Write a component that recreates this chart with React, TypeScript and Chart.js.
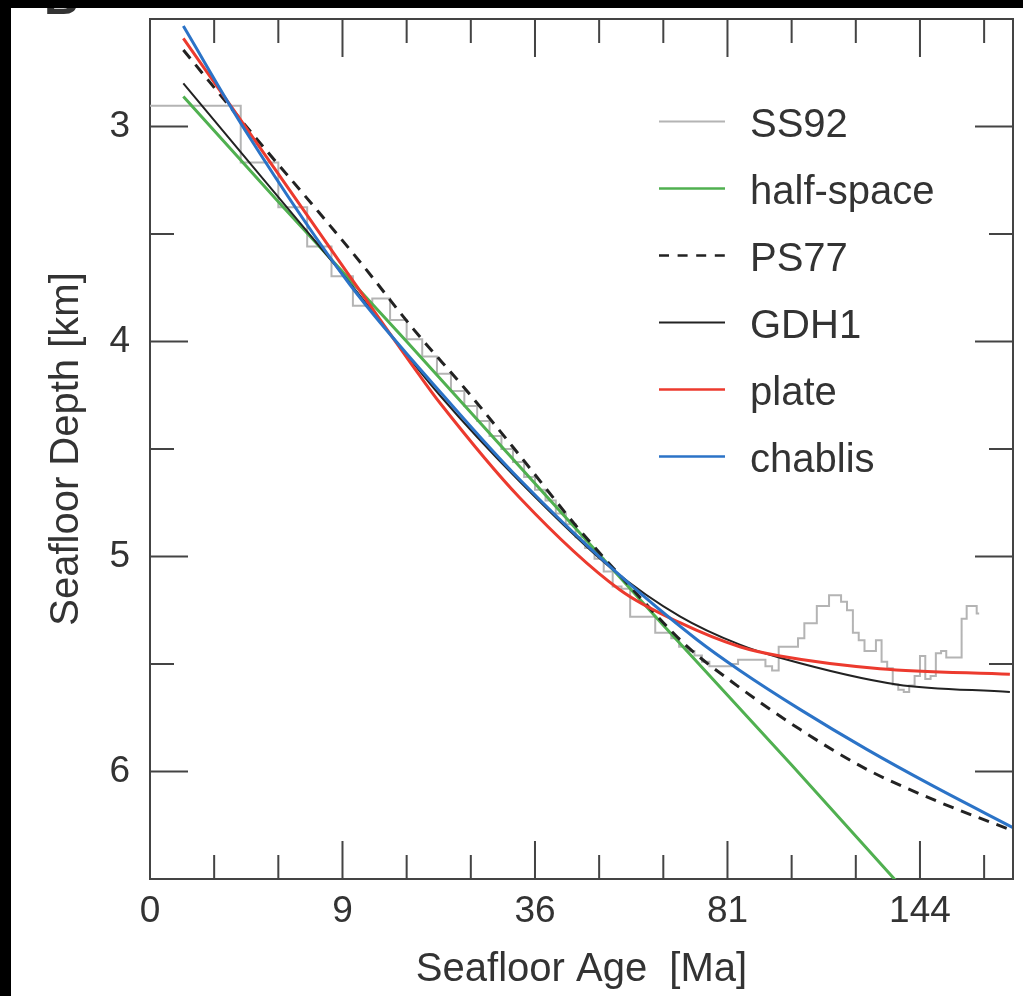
import React, { useEffect, useRef } from "react";
import { Chart, registerables } from "chart.js";

Chart.register(...registerables);

const FONT = "'Liberation Sans', Arial, Helvetica, sans-serif";
const TEXT = "#333333";
const AXIS = "#444444";

// Axis is linear in sqrt(age); labels show the age in Ma
const xTickAges = [0, 9, 36, 81, 144];
const xMinorTickAges = [1, 4, 16, 25, 49, 64, 100, 121, 169];
const yTickDepths = [3, 4, 5, 6];
const yMinorTickDepths = [3.5, 4.5, 5.5];
const xMaxAge = 180.9;

const xTitle = "Seafloor Age  [Ma]";
const yTitle = "Seafloor Depth [km]";

// SS92 binned depths (2 Ma bins; value at bin start, last point closes the final bin)
const ss92Age = [
  0, 2, 4, 6, 8, 10, 12, 14, 16, 18, 20, 22, 24, 26, 28, 30, 32, 34, 36, 38,
  40, 42, 44, 46, 48, 50, 52, 54, 56, 58, 60, 62, 64, 66, 68, 70, 72, 74, 76, 78,
  80, 82, 84, 86, 88, 90, 92, 94, 96, 98, 100, 102, 104, 106, 108, 110, 112, 114, 116, 118,
  120, 122, 124, 126, 128, 130, 132, 134, 136, 138, 140, 142, 144, 146, 148, 150, 152, 154, 156, 158,
  160, 162, 164, 166, 167,
];
const ss92Depth = [
  2.904, 3.168, 3.376, 3.558, 3.697, 3.834, 3.8, 3.9, 3.99, 4.07, 4.15, 4.23, 4.3, 4.37, 4.44, 4.5, 4.56, 4.63, 4.69, 4.74,
  4.8, 4.85, 4.91, 4.96, 5.01, 5.07, 5.14, 5.15, 5.28, 5.28, 5.28, 5.355, 5.355, 5.38, 5.42, 5.44, 5.46, 5.49, 5.51, 5.51,
  5.51, 5.5, 5.48, 5.48, 5.48, 5.48, 5.51, 5.53, 5.42, 5.42, 5.42, 5.38, 5.31, 5.31, 5.23, 5.23, 5.18, 5.18, 5.21, 5.25,
  5.355, 5.39, 5.44, 5.44, 5.39, 5.49, 5.52, 5.595, 5.62, 5.63, 5.6, 5.556, 5.463, 5.57, 5.556, 5.45, 5.44, 5.47, 5.47, 5.47,
  5.29, 5.23, 5.23, 5.265, 5.265,
];

const halfSpaceAge = [0.27, 4, 16, 36, 64, 100, 136];
const halfSpaceDepth = [2.86, 3.35, 4.0, 4.66, 5.32, 5.97, 6.52];

const ps77Age = [0.27, 2.6, 6.5, 10.9, 16.8, 24.4, 33.2, 44.2, 56, 70, 82.5, 102.6, 124.8, 148.9, 180.9];
const ps77Depth = [2.644, 3.04, 3.37, 3.64, 3.94, 4.23, 4.53, 4.86, 5.14, 5.417, 5.586, 5.804, 5.99, 6.13, 6.276];

const gdh1Age = [0.27, 2.6, 9.7, 20.4, 33.2, 52, 68.2, 84.5, 96.4, 135.4, 179.6];
const gdh1Depth = [2.799, 3.19, 3.728, 4.25, 4.651, 5.06, 5.278, 5.41, 5.471, 5.595, 5.63];

const plateAge = [0.27, 1.97, 9.7, 17.7, 20.4, 33.2, 53.6, 68.2, 84.5, 96.4, 129.4, 179.6];
const plateDepth = [2.59, 2.966, 3.697, 4.16, 4.285, 4.727, 5.155, 5.308, 5.42, 5.463, 5.522, 5.548];

const chablisAge = [0.27, 2.19, 9.7, 22.3, 33.2, 52.1, 72.6, 84.5, 102.6, 124.8, 148.9, 180.9];
const chablisDepth = [2.533, 3.016, 3.735, 4.302, 4.642, 5.06, 5.386, 5.53, 5.711, 5.897, 6.067, 6.261];

const toPoints = (ages: number[], depths: number[]) =>
  ages.map((a, i) => ({ x: Math.sqrt(a), y: depths[i] }));

const frameTicksPlugin = {
  id: "frameTicks",
  afterDatasetsDraw(chart: any) {
    const { ctx, chartArea: a, scales } = chart;
    const xs = scales.x;
    const ys = scales.y;
    ctx.save();
    ctx.strokeStyle = AXIS;
    ctx.lineWidth = 2;
    ctx.setLineDash([]);
    ctx.beginPath();
    ctx.moveTo(a.left, a.top);
    ctx.lineTo(a.right, a.top);
    ctx.lineTo(a.right, a.bottom);
    ctx.stroke();
    const major = 38;
    const minor = 24;
    const xTicks = [
      ...xTickAges.filter((v) => v > 0).map((v) => [v, major]),
      ...xMinorTickAges.map((v) => [v, minor]),
    ];
    xTicks.forEach(([age, len]) => {
      const px = xs.getPixelForValue(Math.sqrt(age));
      if (px <= a.left + 1 || px >= a.right - 1) return;
      ctx.beginPath();
      ctx.moveTo(px, a.bottom);
      ctx.lineTo(px, a.bottom - len);
      ctx.moveTo(px, a.top);
      ctx.lineTo(px, a.top + len);
      ctx.stroke();
    });
    const yTicks = [
      ...yTickDepths.map((v) => [v, major]),
      ...yMinorTickDepths.map((v) => [v, minor]),
    ];
    yTicks.forEach(([d, len]) => {
      const py = ys.getPixelForValue(d);
      ctx.beginPath();
      ctx.moveTo(a.left, py);
      ctx.lineTo(a.left + len, py);
      ctx.moveTo(a.right, py);
      ctx.lineTo(a.right - len, py);
      ctx.stroke();
    });
    ctx.restore();
  },
};

const legendPlugin = {
  id: "insideLegend",
  afterDatasetsDraw(chart: any) {
    const { ctx } = chart;
    const x0 = 659;
    const x1 = 725;
    const tx = 750;
    const y0 = 121.5;
    const dy = 67;
    ctx.save();
    chart.data.datasets.forEach((ds: any, i: number) => {
      const y = y0 + dy * i;
      ctx.strokeStyle = ds.borderColor;
      ctx.lineWidth = Math.min(ds.borderWidth, 2.5);
      ctx.setLineDash(ds.borderDash ? [10, 8.6] : []);
      ctx.beginPath();
      ctx.moveTo(x0, y);
      ctx.lineTo(x1, y);
      ctx.stroke();
      ctx.setLineDash([]);
      ctx.fillStyle = TEXT;
      ctx.font = `40px ${FONT}`;
      ctx.textAlign = "left";
      ctx.textBaseline = "middle";
      ctx.fillText(ds.label, tx, y + 4);
    });
    ctx.restore();
  },
};

export default function App() {
  const canvasRef = useRef<HTMLCanvasElement | null>(null);

  useEffect(() => {
    if (!canvasRef.current) return;
    const chart = new Chart(canvasRef.current, {
      type: "line",
      data: {
        datasets: [
          {
            label: "SS92",
            data: toPoints(ss92Age, ss92Depth),
            borderColor: "#b4b4b4",
            borderWidth: 2,
            stepped: true,
            pointRadius: 0,
            fill: false,
            order: 6,
          },
          {
            label: "half-space",
            data: toPoints(halfSpaceAge, halfSpaceDepth),
            borderColor: "#50b050",
            borderWidth: 3,
            pointRadius: 0,
            fill: false,
            order: 5,
          },
          {
            label: "PS77",
            data: toPoints(ps77Age, ps77Depth),
            borderColor: "#222222",
            borderWidth: 3,
            borderDash: [11, 8],
            cubicInterpolationMode: "monotone",
            pointRadius: 0,
            fill: false,
            order: 4,
          },
          {
            label: "GDH1",
            data: toPoints(gdh1Age, gdh1Depth),
            borderColor: "#222222",
            borderWidth: 2,
            cubicInterpolationMode: "monotone",
            pointRadius: 0,
            fill: false,
            order: 3,
          },
          {
            label: "plate",
            data: toPoints(plateAge, plateDepth),
            borderColor: "#ec3a2e",
            borderWidth: 3,
            cubicInterpolationMode: "monotone",
            pointRadius: 0,
            fill: false,
            order: 2,
          },
          {
            label: "chablis",
            data: toPoints(chablisAge, chablisDepth),
            borderColor: "#2b73c7",
            borderWidth: 3,
            cubicInterpolationMode: "monotone",
            pointRadius: 0,
            fill: false,
            order: 1,
          },
        ] as any,
      },
      options: {
        responsive: false,
        maintainAspectRatio: false,
        animation: false,
        devicePixelRatio: 1,
        layout: { padding: { top: 19, right: 10, left: 0, bottom: 0 } },
        plugins: {
          legend: { display: false },
          tooltip: { enabled: false },
          title: { display: false },
        },
        scales: {
          x: {
            type: "linear",
            min: 0,
            max: Math.sqrt(xMaxAge),
            afterFit: (scale: any) => {
              scale.height = 117;
              scale.paddingLeft = 0;
              scale.paddingRight = 0;
            },
            afterBuildTicks: (scale: any) => {
              scale.ticks = xTickAges.map((a) => ({ value: Math.sqrt(a) }));
            },
            ticks: {
              autoSkip: false,
              maxRotation: 0,
              padding: 11,
              color: TEXT,
              font: { family: FONT, size: 37 },
              callback: (v: any) => String(Math.round(Number(v) * Number(v))),
            },
            grid: { display: true, drawOnChartArea: false, drawTicks: false },
            border: { display: true, color: AXIS, width: 2 },
            title: {
              display: true,
              text: xTitle,
              color: TEXT,
              font: { family: FONT, size: 40 },
              padding: { top: 0, bottom: 2 },
            },
          },
          y: {
            type: "linear",
            reverse: true,
            min: 2.5,
            max: 6.5,
            afterFit: (scale: any) => {
              scale.width = 150;
              scale.paddingTop = 0;
              scale.paddingBottom = 0;
            },
            afterBuildTicks: (scale: any) => {
              scale.ticks = yTickDepths.map((d) => ({ value: d }));
            },
            ticks: {
              padding: 20,
              color: TEXT,
              font: { family: FONT, size: 37 },
              callback: (v: any) => String(v),
            },
            grid: { display: true, drawOnChartArea: false, drawTicks: false },
            border: { display: true, color: AXIS, width: 2 },
            title: {
              display: true,
              text: yTitle,
              color: TEXT,
              font: { family: FONT, size: 40 },
              padding: { top: 43, bottom: 0 },
            },
          },
        },
      },
      plugins: [frameTicksPlugin, legendPlugin],
    });
    return () => chart.destroy();
  }, []);

  return (
    <div
      style={{
        position: "fixed",
        left: 0,
        top: 0,
        width: 1023,
        height: 996,
        background: "#ffffff",
        overflow: "hidden",
      }}
    >
      <canvas
        ref={canvasRef}
        width={1023}
        height={996}
        style={{ position: "absolute", left: 0, top: 0, width: 1023, height: 996 }}
      />
      <div
        style={{
          position: "absolute",
          left: 44,
          top: -26,
          fontFamily: FONT,
          fontWeight: "bold",
          fontSize: 48,
          lineHeight: "48px",
          color: TEXT,
        }}
      >
        B
      </div>
      <div style={{ position: "absolute", left: 0, top: 0, width: 1023, height: 8, background: "#000" }} />
      <div style={{ position: "absolute", left: 0, top: 0, width: 11, height: 996, background: "#000" }} />
    </div>
  );
}
